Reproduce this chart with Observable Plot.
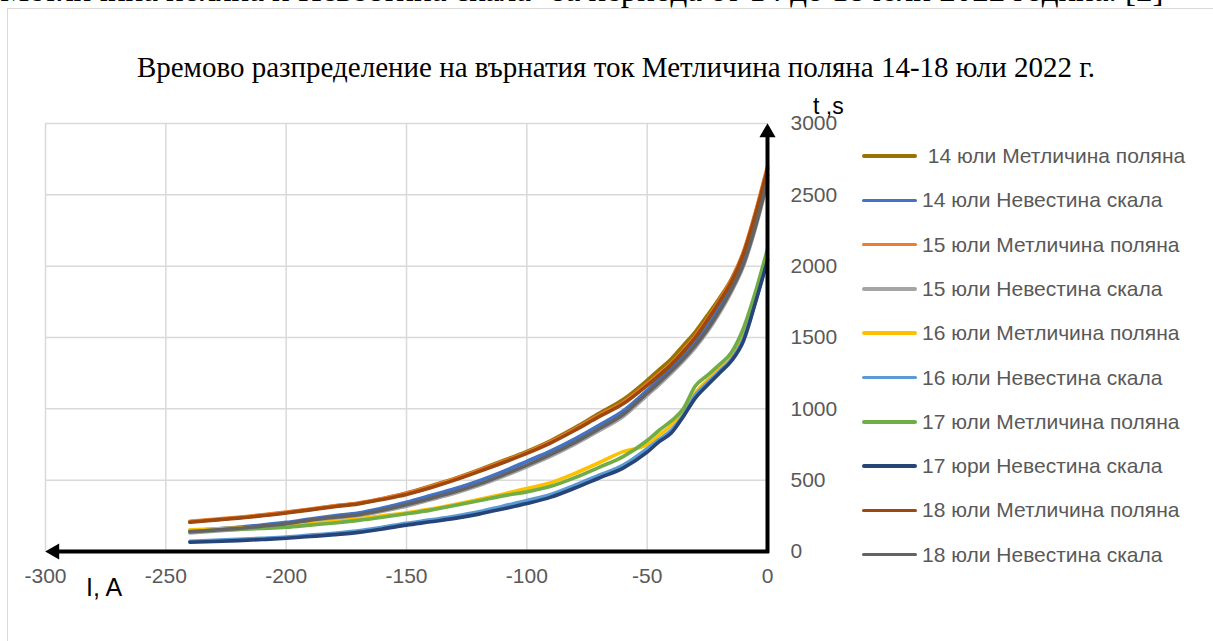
<!DOCTYPE html>
<html>
<head>
<meta charset="utf-8">
<script src="https://cdn.jsdelivr.net/npm/d3@7"></script>
<script src="https://cdn.jsdelivr.net/npm/@observablehq/plot@0.6"></script>
<style>
  html, body { margin: 0; padding: 0; background: #fff; width: 1213px; height: 641px; overflow: hidden; position: relative; }
  #frame { position: absolute; left: 7px; top: 8px; width: 1300px; height: 700px; border-left: 1.5px solid #d9d9d9; border-top: 1.5px solid #d9d9d9; }
  #cut { position: absolute; left: 0; top: -26px; font-family: "Liberation Serif"; font-size: 33px; line-height: 33px; white-space: nowrap; color: #000; }
  #title { position: absolute; left: 0; width: 1232px; top: 51px; text-align: center; font-family: "Liberation Serif"; font-size: 29px; line-height: 32px; color: #000; white-space: nowrap; }
  #chart { position: absolute; left: 0; top: 0; }
  .axlab { position: absolute; font-family: "Liberation Sans"; color: #000; line-height: 26px; white-space: nowrap; }
  .lg { position: absolute; left: 862px; height: 26px; display: flex; align-items: center; font-family: "Liberation Sans"; font-size: 21px; color: #595959; white-space: pre; }
  .lg .sw { width: 55px; height: 3.5px; margin-right: 5px; border-radius: 2px; }
</style>
</head>
<body>
<div id="frame"></div>
<div id="cut">Метличина поляна и Невестина скала" за периода от 14 до 18 юли 2022 година. [2]</div>
<div id="title">Времово разпределение на върнатия ток Метличина поляна 14-18 юли 2022 г.</div>
<div id="chart"></div>
<div class="axlab" style="left:813px; top:93px; font-size:23px;">t ,s</div>
<div class="axlab" style="left:86px; top:574px; font-size:25px;">I, A</div>
<div id="legend"></div>
<script>
// ---- data ----
const xTicks = [-300, -250, -200, -150, -100, -50, 0];
const yTicks = [0, 500, 1000, 1500, 2000, 2500, 3000];

const seriesNames = [
  " 14 юли Метличина поляна",
  "14 юли Невестина скала",
  "15 юли Метличина поляна",
  "15 юли Невестина скала",
  "16 юли Метличина поляна",
  "16 юли Невестина скала",
  "17 юли Метличина поляна",
  "17 юри Невестина скала",
  "18 юли Метличина поляна",
  "18 юли Невестина скала"
];
const seriesColors = ["#997300", "#4472C4", "#ED7D31", "#A5A5A5", "#FFC000", "#5B9BD5", "#70AD47", "#264478", "#9E480E", "#636363"];

const current = [-240, -230, -220, -210, -200, -190, -180, -170, -160, -150, -140, -130, -120, -110, -100, -90, -80, -70, -60, -50, -45, -40, -35, -30, -25, -20, -15, -10, -5, 0];

const jul14Metl = [208, 222, 236, 254, 273, 295, 318, 338, 370, 410, 460, 512, 572, 636, 702, 778, 868, 968, 1065, 1200, 1275, 1350, 1445, 1540, 1655, 1775, 1910, 2095, 2370, 2690];
const jul14Nev  = [145, 158, 170, 186, 204, 228, 250, 270, 305, 345, 392, 440, 495, 560, 632, 705, 790, 885, 985, 1130, 1210, 1290, 1375, 1470, 1580, 1710, 1860, 2050, 2320, 2640];
const jul15Metl = [212, 226, 240, 257, 276, 298, 320, 340, 372, 408, 455, 508, 568, 630, 695, 770, 858, 955, 1045, 1175, 1245, 1320, 1410, 1510, 1630, 1760, 1905, 2100, 2380, 2700];
const jul15Nev  = [130, 142, 155, 170, 188, 212, 232, 250, 282, 318, 362, 408, 462, 525, 594, 668, 752, 846, 946, 1095, 1170, 1250, 1335, 1430, 1540, 1670, 1820, 2000, 2265, 2590];
const jul16Metl = [152, 158, 165, 172, 180, 195, 210, 228, 250, 272, 298, 330, 365, 402, 442, 482, 548, 622, 700, 748, 815, 885, 975, 1110, 1200, 1280, 1360, 1510, 1780, 2080];
const jul16Nev  = [72, 78, 85, 93, 102, 115, 128, 145, 170, 198, 222, 247, 278, 318, 357, 400, 465, 535, 605, 720, 785, 850, 955, 1095, 1180, 1262, 1345, 1490, 1755, 2050];
const jul17Metl = [142, 148, 155, 162, 170, 185, 200, 218, 240, 264, 290, 322, 355, 390, 418, 457, 518, 590, 665, 778, 850, 915, 1000, 1160, 1235, 1310, 1395, 1565, 1820, 2120];
const jul17Nev  = [65, 70, 76, 84, 93, 105, 118, 134, 158, 185, 208, 232, 262, 298, 336, 381, 445, 515, 585, 696, 770, 830, 945, 1075, 1165, 1250, 1335, 1475, 1745, 2040];
const jul18Metl = [205, 220, 234, 250, 270, 292, 314, 334, 365, 400, 447, 500, 560, 622, 688, 762, 850, 945, 1035, 1165, 1235, 1310, 1400, 1500, 1620, 1750, 1890, 2085, 2360, 2680];
const jul18Nev  = [138, 150, 162, 178, 195, 220, 240, 258, 290, 328, 372, 418, 472, 536, 605, 680, 765, 860, 960, 1110, 1185, 1265, 1350, 1445, 1555, 1685, 1835, 2015, 2280, 2600];

const seriesValues = [jul14Metl, jul14Nev, jul15Metl, jul15Nev, jul16Metl, jul16Nev, jul17Metl, jul17Nev, jul18Metl, jul18Nev];

// ---- build table ----
const rows = [];
seriesNames.forEach((name, i) => {
  seriesValues[i].forEach((t, j) => rows.push({series: name, current: current[j], t}));
});

const tickStyle = {tickSize: 0, fontSize: 21, fill: "#595959", tickFormat: d => String(d)};

const chart = Plot.plot({
  width: 1213,
  height: 641,
  marginLeft: 45,
  marginRight: 446,
  marginTop: 123,
  marginBottom: 90,
  x: {domain: [xTicks[0], xTicks[xTicks.length - 1]]},
  y: {domain: [yTicks[0], yTicks[yTicks.length - 1]]},
  color: {domain: seriesNames, range: seriesColors},
  style: {background: "transparent", fontFamily: "Liberation Sans", overflow: "visible"},
  marks: [
    Plot.gridX(xTicks.slice(0, -1), {stroke: "#d9d9d9", strokeOpacity: 1, strokeWidth: 1.5}),
    Plot.gridY(yTicks.slice(1), {stroke: "#d9d9d9", strokeOpacity: 1, strokeWidth: 1.5}),
    Plot.axisX(xTicks, {...tickStyle, tickPadding: 17}),
    Plot.axisY(yTicks, {...tickStyle, anchor: "right", tickPadding: 23}),
    Plot.line(rows, {x: "current", y: "t", z: "series", stroke: "series", strokeWidth: 3.6, curve: "monotone-x", strokeLinecap: "round"}),
    Plot.ruleY([yTicks[0]], {stroke: "#000", strokeWidth: 4, insetLeft: 12, insetRight: -2}),
    Plot.ruleX([xTicks[xTicks.length - 1]], {stroke: "#000", strokeWidth: 4, insetTop: 12, insetBottom: -2}),
    Plot.dot([{x: xTicks[0], y: yTicks[0]}], {x: "x", y: "y", symbol: "triangle", r: 6, fill: "#000", rotate: -90, dx: 9}),
    Plot.dot([{x: xTicks[xTicks.length - 1], y: yTicks[yTicks.length - 1]}], {x: "x", y: "y", symbol: "triangle", r: 6, fill: "#000", dy: 9})
  ]
});
document.getElementById("chart").appendChild(chart);

// ---- legend ----
const legend = document.getElementById("legend");
seriesNames.forEach((name, i) => {
  const row = document.createElement("div");
  row.className = "lg";
  row.style.top = (156 + 44.3 * i - 13) + "px";
  const sw = document.createElement("span");
  sw.className = "sw";
  sw.style.background = seriesColors[i];
  const tx = document.createElement("span");
  tx.textContent = name;
  row.appendChild(sw);
  row.appendChild(tx);
  legend.appendChild(row);
});
</script>
</body>
</html>
